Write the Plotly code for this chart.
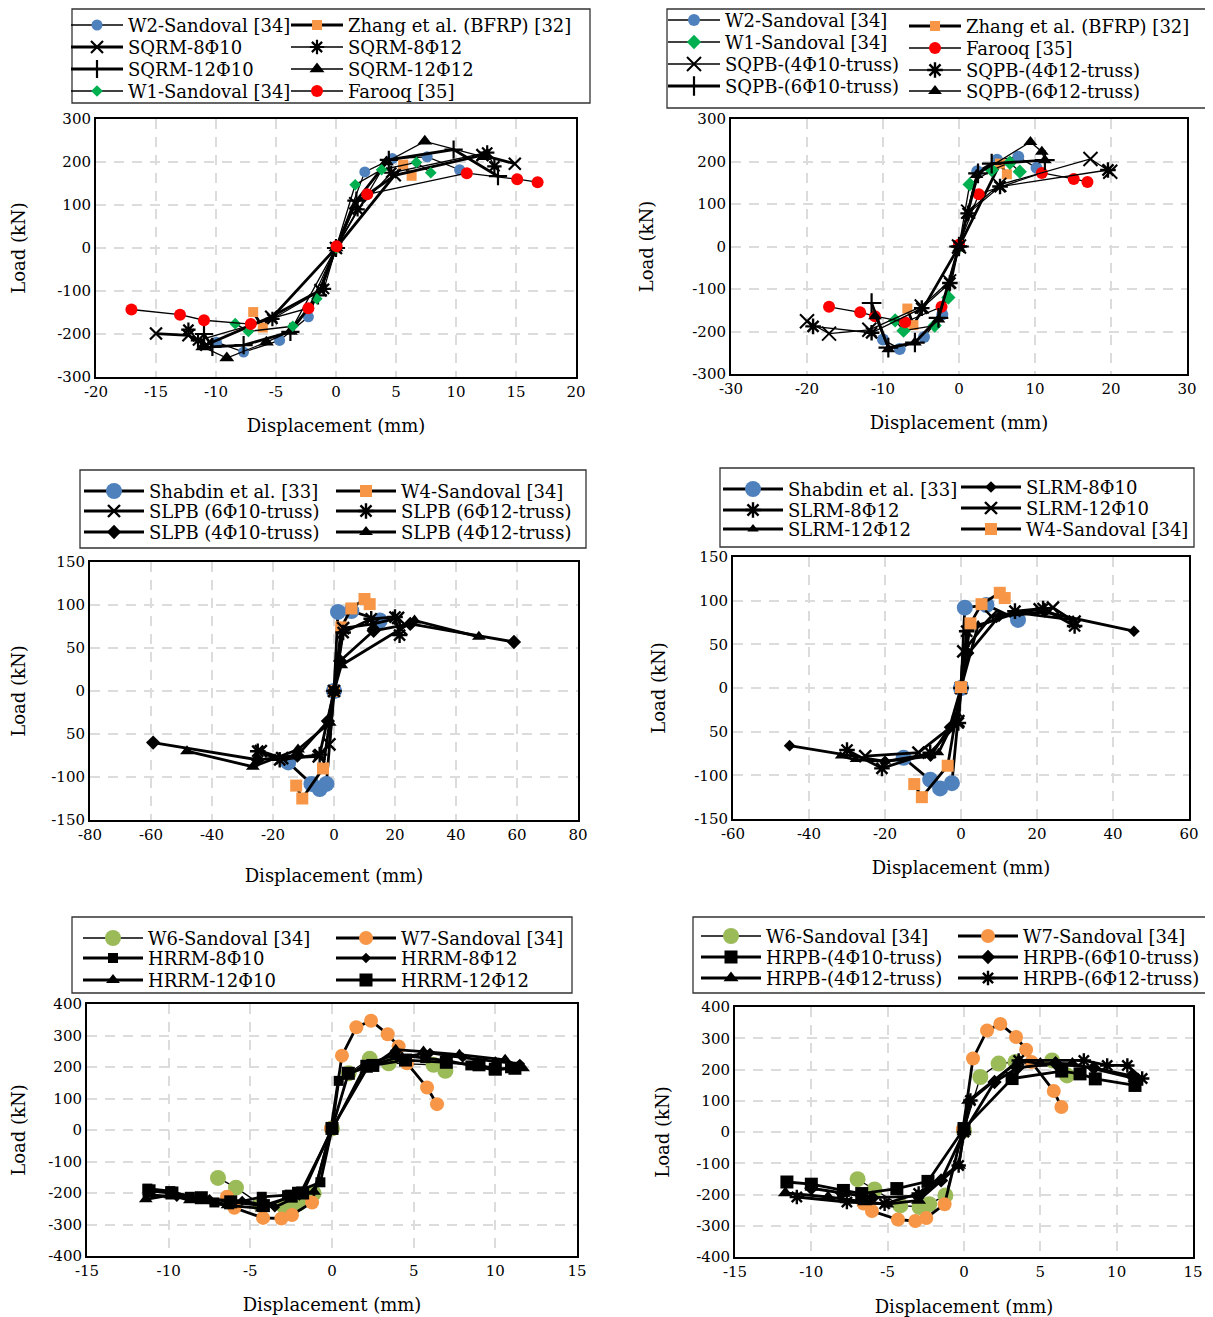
import plotly.graph_objects as go

# The page body adds an 8 px margin, so the figure is 8 px smaller and all
# page-pixel positions below are converted with that offset.
PAGE_W, PAGE_H = 1213, 1317
OFF = 8
W, H = PAGE_W - OFF, PAGE_H - OFF
FONT = "DejaVu Serif"
BLUE = "#4F81BD"
ORANGE = "#F79646"
GREEN = "#00B050"
RED = "#FF0000"
LGREEN = "#9BBB59"
PHI = "\u03a6"


def fx(px):
    return (px - OFF) / W


def fy(py):
    return 1 - (py - OFF) / H


# ---------------- data: panel 1 (SQRM) ----------------
p1_w2_x = [-9.96, -7.7, -4.7, -2.3, 0, 2.4, 4.7, 7.6, 10.3]
p1_w2_y = [-219, -242, -215, -160, 0, 177, 208, 212, 182]
p1_zhang_x = [-6.9, -6.1, 0, 5.6, 6.3]
p1_zhang_y = [-149, -185, 0, 194, 168]
p1_s810_x = [-15.0, -12.3, -10.8, -5.4, -1.3, 0, 1.6, 4.9, 12.2, 14.9]
p1_s810_y = [-199, -203, -225, -160, -98, 0, 104, 169, 216, 196]
p1_s812_x = [-12.3, -11.5, -5.3, -1.0, 0, 1.8, 4.6, 12.6, 13.2]
p1_s812_y = [-190, -215, -165, -95, 0, 90, 175, 222, 190]
p1_s1210_x = [-11.0, -10.3, -7.7, -3.8, -1.5, 0, 1.7, 4.4, 9.8, 13.5]
p1_s1210_y = [-200, -230, -226, -195, -110, 0, 110, 205, 229, 167]
p1_s1212_x = [-11.1, -9.1, -5.8, -3.8, 0, 4.2, 7.4, 12.3]
p1_s1212_y = [-230, -256, -219, -194, 0, 200, 248, 212]
p1_w1_x = [-8.4, -7.3, -3.6, -1.6, 0, 1.6, 3.8, 6.7, 7.9]
p1_w1_y = [-176, -194, -182, -118, 0, 147, 182, 199, 175]
p1_far_x = [-17.05, -13.0, -11.0, -7.1, -2.3, 0.05, 2.6, 10.9, 15.1, 16.8]
p1_far_y = [-143, -155, -168, -177, -140, 4, 125, 174, 160, 153]

# ---------------- data: panel 2 (SQPB) ----------------
p2_w2_x = [-10.0, -7.8, -4.6, -2.2, 0, 2.4, 5.0, 7.8, 10.2]
p2_w2_y = [-219, -241, -213, -160, 2, 177, 204, 211, 185]
p2_zhang_x = [-6.8, -6.0, 0, 5.4, 6.3]
p2_zhang_y = [-146, -185, 0, 195, 170]
p2_w1_x = [-8.4, -7.3, -3.2, -1.4, 0, 1.4, 4.3, 6.7, 8.0]
p2_w1_y = [-174, -198, -186, -120, 0, 146, 180, 197, 176]
p2_far_x = [-17.1, -13.0, -11.05, -7.1, -2.3, 0, 2.6, 10.9, 15.1, 16.9]
p2_far_y = [-142, -155, -164, -178, -142, 4, 123, 173, 159, 152]
p2_t410_x = [-20.0, -17.1, -11.8, -4.9, -1.3, 0, 1.2, 5.3, 17.3, 19.9]
p2_t410_y = [-176, -205, -196, -141, -82, 0, 82, 145, 206, 176]
p2_t412_x = [-19.2, -11.5, -4.9, -1.2, 0, 1.2, 5.4, 19.6]
p2_t412_y = [-188, -203, -145, -86, 0, 78, 141, 180]
p2_t610_x = [-11.5, -9.3, -5.8, -2.7, 0, 2.5, 4.3, 11.3]
p2_t610_y = [-133, -238, -226, -168, 0, 172, 195, 203]
p2_t612_x = [-11.05, -9.3, -5.8, -2.7, 0, 2.3, 9.4, 10.9, 11.3]
p2_t612_y = [-164, -242, -226, -172, -4, 168, 246, 223, 203]

# ---------------- data: panel 3 (SLPB) ----------------
p3_shab_x = [-15, -7.4, -4.7, -2.5, 0, 1.3, 5.7, 15]
p3_shab_y = [-83, -108, -114, -108, 0, 92, 93, 82]
p3_w4_x = [-12.4, -10.4, -3.6, 0, 2.4, 5.7, 10, 11.7]
p3_w4_y = [-110, -125, -90, 0, 74, 96, 107, 101]
p3_t610_x = [-24, -17, -5, -1.5, 0, 3, 13, 21, 22]
p3_t610_y = [-70, -78, -76, -62, 0, 73, 78, 85, 72]
p3_t612_x = [-25, -17.8, -4.7, 0, 3, 12.2, 20, 21.5]
p3_t612_y = [-70, -80, -74, 0, 68, 84, 86, 65]
p3_t410_x = [-59.3, -25, -12, -2, 0, 2, 13, 25, 59]
p3_t410_y = [-60, -80, -75, -35, 0, 35, 70, 78, 57]
p3_t412_x = [-48.2, -26.6, -11.8, -1.4, 0, 2.4, 26.4, 47.5]
p3_t412_y = [-70, -88, -68, -37, 0, 30, 82, 63]

# ---------------- data: panel 4 (SLRM) ----------------
p4_shab_x = [-15.1, -8.1, -5.5, -2.4, 0, 1.0, 6.7, 15]
p4_shab_y = [-80, -105, -115, -109, 0, 92, 95, 78]
p4_w4_x = [-12.3, -10.3, -3.5, 0, 2.5, 5.4, 10.2, 11.5]
p4_w4_y = [-110, -125, -89, 1, 74, 96, 109, 103]
p4_s810_x = [-45.1, -20, -8, -3, 0, 2, 10, 22, 45.5]
p4_s810_y = [-66, -84, -78, -45, 0, 40, 82, 87, 65]
p4_s812_x = [-30, -20.8, -8.1, -0.7, 0, 1.5, 14.2, 21.6, 29.9]
p4_s812_y = [-71, -92, -74, -40, 0, 65, 88, 91, 71]
p4_s1210_x = [-25.2, -11.2, -0.7, 0, 0.6, 8, 20.7, 24.2, 29.9]
p4_s1210_y = [-78, -74, -38, 0, 42, 82, 90, 92, 76]
p4_s1212_x = [-31.7, -27.8, -19.9, -5.9, -1, 0, 4.5, 15, 29.5]
p4_s1212_y = [-78, -82, -84, -74, -30, 0, 72, 86, 78]

# ---------------- data: panel 5 (HRRM) ----------------
p5_w6_x = [-6.98, -5.88, -4.39, -2.92, -2.04, -1.12, 0, 1.02, 2.31, 3.47, 6.22, 6.94]
p5_w6_y = [-152, -183, -236, -244, -233, -201, 5, 180, 226, 212, 207, 188]
p5_w7_x = [-6.43, -5.98, -4.22, -3.10, -2.45, -1.22, -0.06, 0.61, 1.49, 2.39, 3.41, 4.08, 4.59, 5.82, 6.43]
p5_w7_y = [-212, -247, -279, -281, -270, -230, 5, 236, 326, 347, 304, 265, 212, 135, 82]
p5_h810_x = [-11.3, -9.9, -8.7, -7.2, -6.3, -4.3, -2.75, -2.14, -0.71, 0, 0.41, 2.04, 3.88, 5.71, 7.04, 8.47, 9.9, 10.9]
p5_h810_y = [-186, -194, -212, -230, -236, -212, -207, -196, -166, 5, 156, 207, 239, 228, 220, 205, 191, 196]
p5_h812_x = [-11.3, -9.5, -7.5, -5.5, -3.5, -2, 0, 2, 4, 6, 8, 10, 11.5]
p5_h812_y = [-205, -212, -220, -225, -245, -208, 0, 200, 230, 245, 230, 218, 210]
p5_h1210_x = [-11.4, -9.9, -8.7, -6.4, -4.3, -2.1, -1.1, 0, 2.1, 3.9, 5.6, 7.8, 10.6, 11.7]
p5_h1210_y = [-220, -207, -223, -239, -249, -201, -196, 5, 191, 255, 249, 239, 223, 196]
p5_h1212_x = [-11.2, -9.8, -8, -6.2, -4.2, -2.5, -1.8, 0, 1.0, 2.5, 4.5, 7, 9, 10, 11.2]
p5_h1212_y = [-193, -200, -215, -228, -240, -210, -200, 5, 180, 205, 222, 215, 207, 193, 196]

# ---------------- data: panel 6 (HRPB) ----------------
p6_w6_x = [-6.97, -5.86, -4.17, -2.91, -2.27, -1.22, 0, 1.07, 2.27, 3.37, 5.77, 6.75]
p6_w6_y = [-151, -184, -235, -240, -231, -203, 5, 176, 219, 224, 229, 181]
p6_w7_x = [-6.58, -6.03, -4.33, -3.19, -2.47, -1.27, -0.07, 0.59, 1.51, 2.38, 3.41, 4.07, 4.42, 5.88, 6.38]
p6_w7_y = [-229, -253, -280, -285, -275, -231, 9, 235, 325, 346, 304, 263, 224, 131, 80]
p6_t410_x = [-11.6, -10.0, -7.9, -6.7, -4.4, -2.36, 0, 3.15, 6.4, 7.6, 8.6, 11.2]
p6_t410_y = [-160, -167, -187, -197, -181, -158, 11, 171, 195, 186, 170, 149]
p6_t610_x = [-10, -8, -6, -3, -1.5, 0, 2, 3.5, 6, 8.5, 11]
p6_t610_y = [-180, -195, -210, -205, -155, 0, 160, 205, 220, 205, 180]
p6_t412_x = [-11.7, -8.9, -6.5, -5.05, -2.97, -0.35, 0, 0.3, 3.6, 5, 7.1, 11.2]
p6_t412_y = [-195, -208, -224, -231, -219, -107, 0, 101, 229, 219, 219, 171]
p6_t612_x = [-10.95, -7.67, -5.2, -2.97, -0.35, 0, 0.42, 3.58, 7.85, 9.38, 10.7, 11.67]
p6_t612_y = [-208, -224, -230, -197, -107, 0, 101, 229, 229, 213, 213, 171]

# ---------------- axis ticks ----------------
p1_xticks = [-20, -15, -10, -5, 0, 5, 10, 15, 20]
p1_yticks = [-300, -200, -100, 0, 100, 200, 300]
p2_xticks = [-30, -20, -10, 0, 10, 20, 30]
p3_xticks = [-80, -60, -40, -20, 0, 20, 40, 60, 80]
p3_yticks = [-150, -100, -50, 0, 50, 100, 150]
p3_ylabels = ["-150", "-100", "50", "0", "50", "100", "150"]
p4_xticks = [-60, -40, -20, 0, 20, 40, 60]
p5_xticks = [-15, -10, -5, 0, 5, 10, 15]
p5_yticks = [-400, -300, -200, -100, 0, 100, 200, 300, 400]

# ---------------- layout geometry (page pixels) ----------------
panels = [
    # (left, right, top, bottom, xrange, yrange, xticks, yticks, ylabels, x-title standoff, y-title standoff)
    (96, 576, 119, 377, [-20, 20], [-300, 300], p1_xticks, p1_yticks, None, 19, 28),
    (731, 1187, 119, 374, [-30, 30], [-300, 300], p2_xticks, p1_yticks, None, 19, 34),
    (90, 578, 562, 820, [-80, 80], [-150, 150], p3_xticks, p3_yticks, p3_ylabels, 26, 24),
    (733, 1189, 557, 819, [-60, 60], [-150, 150], p4_xticks, p3_yticks, p3_ylabels, 19, 24),
    (87, 577, 1004, 1256, [-15, 15], [-400, 400], p5_xticks, p5_yticks, None, 19, 21),
    (735, 1193, 1007, 1257, [-15, 15], [-400, 400], p5_xticks, p5_yticks, None, 21, 22),
]

THIN, THICK = 1.3, 2.8


def mk(sym, color, size, lw_marker=0):
    return dict(symbol=sym, color=color, size=size,
                line=dict(color="black" if lw_marker else color, width=lw_marker))


# series: (panel, name, x, y, linewidth, marker, legend text x px, legend row y px)
series = [
    (1, "W2-Sandoval [34]", p1_w2_x, p1_w2_y, THIN, mk("circle", BLUE, 11), 130, 25),
    (1, "Zhang et al. (BFRP) [32]", p1_zhang_x, p1_zhang_y, THICK, mk("square", ORANGE, 10), 350, 25),
    (1, "SQRM-8" + PHI + "10", p1_s810_x, p1_s810_y, THICK, mk("x-thin-open", "black", 12, 2.2), 130, 47),
    (1, "SQRM-8" + PHI + "12", p1_s812_x, p1_s812_y, THIN, mk("asterisk-open", "black", 12, 2.2), 350, 47),
    (1, "SQRM-12" + PHI + "10", p1_s1210_x, p1_s1210_y, THICK, mk("cross-thin-open", "black", 13, 2.2), 130, 69),
    (1, "SQRM-12" + PHI + "12", p1_s1212_x, p1_s1212_y, THIN, mk("triangle-up", "black", 13), 350, 69),
    (1, "W1-Sandoval [34]", p1_w1_x, p1_w1_y, THIN, mk("diamond", GREEN, 9), 130, 91),
    (1, "Farooq [35]", p1_far_x, p1_far_y, THIN, mk("circle", RED, 12), 350, 91),

    (2, "W2-Sandoval [34]", p2_w2_x, p2_w2_y, THIN, mk("circle", BLUE, 12), 727, 20),
    (2, "Zhang et al. (BFRP) [32]", p2_zhang_x, p2_zhang_y, THICK, mk("square", ORANGE, 10), 968, 26),
    (2, "W1-Sandoval [34]", p2_w1_x, p2_w1_y, THIN, mk("diamond", GREEN, 11), 727, 42),
    (2, "Farooq [35]", p2_far_x, p2_far_y, THIN, mk("circle", RED, 12), 968, 48),
    (2, "SQPB-(4" + PHI + "10-truss)", p2_t410_x, p2_t410_y, THIN, mk("x-thin-open", "black", 14, 2), 727, 64),
    (2, "SQPB-(4" + PHI + "12-truss)", p2_t412_x, p2_t412_y, THIN, mk("asterisk-open", "black", 13, 2.4), 968, 70),
    (2, "SQPB-(6" + PHI + "10-truss)", p2_t610_x, p2_t610_y, THICK, mk("cross-thin-open", "black", 14, 2.2), 727, 86),
    (2, "SQPB-(6" + PHI + "12-truss)", p2_t612_x, p2_t612_y, THIN, mk("triangle-up", "black", 12), 968, 91),

    (3, "Shabdin et al. [33]", p3_shab_x, p3_shab_y, THICK, mk("circle", BLUE, 16), 151, 491),
    (3, "W4-Sandoval [34]", p3_w4_x, p3_w4_y, THICK, mk("square", ORANGE, 12), 403, 491),
    (3, "SLPB (6" + PHI + "10-truss)", p3_t610_x, p3_t610_y, THICK, mk("x-thin-open", "black", 12, 2.4), 151, 511),
    (3, "SLPB (6" + PHI + "12-truss)", p3_t612_x, p3_t612_y, THICK, mk("asterisk-open", "black", 13, 2.4), 403, 511),
    (3, "SLPB (4" + PHI + "10-truss)", p3_t410_x, p3_t410_y, THICK, mk("diamond", "black", 11), 151, 532),
    (3, "SLPB (4" + PHI + "12-truss)", p3_t412_x, p3_t412_y, THICK, mk("triangle-up", "black", 12), 403, 532),

    (4, "Shabdin et al. [33]", p4_shab_x, p4_shab_y, THICK, mk("circle", BLUE, 16), 790, 489),
    (4, "SLRM-8" + PHI + "10", p4_s810_x, p4_s810_y, THICK, mk("diamond", "black", 9), 1028, 487),
    (4, "SLRM-8" + PHI + "12", p4_s812_x, p4_s812_y, THICK, mk("asterisk-open", "black", 13, 2.4), 790, 510),
    (4, "SLRM-12" + PHI + "10", p4_s1210_x, p4_s1210_y, THICK, mk("x-thin-open", "black", 12, 2.4), 1028, 508),
    (4, "SLRM-12" + PHI + "12", p4_s1212_x, p4_s1212_y, THICK, mk("triangle-up", "black", 10), 790, 529),
    (4, "W4-Sandoval [34]", p4_w4_x, p4_w4_y, THICK, mk("square", ORANGE, 12), 1028, 529),

    (5, "W6-Sandoval [34]", p5_w6_x, p5_w6_y, THIN, mk("circle", LGREEN, 16), 150, 938),
    (5, "W7-Sandoval [34]", p5_w7_x, p5_w7_y, THICK, mk("circle", ORANGE, 14), 403, 938),
    (5, "HRRM-8" + PHI + "10", p5_h810_x, p5_h810_y, THICK, mk("square", "black", 10), 150, 958),
    (5, "HRRM-8" + PHI + "12", p5_h812_x, p5_h812_y, THICK, mk("diamond", "black", 8), 403, 958),
    (5, "HRRM-12" + PHI + "10", p5_h1210_x, p5_h1210_y, THICK, mk("triangle-up", "black", 12), 150, 980),
    (5, "HRRM-12" + PHI + "12", p5_h1212_x, p5_h1212_y, THICK, mk("square", "black", 13), 403, 980),

    (6, "W6-Sandoval [34]", p6_w6_x, p6_w6_y, THIN, mk("circle", LGREEN, 16), 768, 936),
    (6, "W7-Sandoval [34]", p6_w7_x, p6_w7_y, THICK, mk("circle", ORANGE, 14), 1025, 936),
    (6, "HRPB-(4" + PHI + "10-truss)", p6_t410_x, p6_t410_y, THICK, mk("square", "black", 13), 768, 957),
    (6, "HRPB-(6" + PHI + "10-truss)", p6_t610_x, p6_t610_y, THICK, mk("diamond", "black", 11), 1025, 957),
    (6, "HRPB-(4" + PHI + "12-truss)", p6_t412_x, p6_t412_y, THICK, mk("triangle-up", "black", 13), 768, 978),
    (6, "HRPB-(6" + PHI + "12-truss)", p6_t612_x, p6_t612_y, THICK, mk("asterisk-open", "black", 12, 2.4), 1025, 978),
]

legend_item_width = {1: 52, 2: 52, 3: 60, 4: 60, 5: 60, 6: 60}
legend_boxes = {
    1: (72, 9, 590, 103),
    2: (667, 9, 1208, 108),
    3: (80, 470, 586, 548),
    4: (720, 468, 1194, 547),
    5: (72, 917, 572, 993),
    6: (693, 917, 1208, 993),
}
LEG_FONT = 18
ITEM_H = LEG_FONT * 1.3 + 3

fig = go.Figure()

for k, (p, name, xs, ys, lw, marker, tx, ty) in enumerate(series):
    key = "legend" if k == 0 else f"legend{k + 1}"
    iw = legend_item_width[p]
    lx = tx - (iw + 12)
    fig.layout[key] = dict(
        orientation="v", x=fx(lx), y=fy(ty - (ITEM_H / 2 + 5)),
        xanchor="left", yanchor="top", bgcolor="rgba(0,0,0,0)",
        borderwidth=0, itemwidth=iw,
        font=dict(family=FONT, size=LEG_FONT, color="black"),
        tracegroupgap=0,
    )
    sfx = "" if p == 1 else str(p)
    fig.add_trace(go.Scatter(
        x=xs, y=ys, name=name, mode="lines+markers",
        line=dict(color="black", width=lw), marker=marker,
        xaxis="x" + sfx, yaxis="y" + sfx, legend=key,
        showlegend=True, cliponaxis=False,
    ))

for i, (l, r, t, b, xr, yr, xt, yt, yl, xso, yso) in enumerate(panels):
    sfx = "" if i == 0 else str(i + 1)
    common = dict(showline=True, mirror=True, linecolor="black", linewidth=2,
                  showgrid=True, gridcolor="#dcdcdc", gridwidth=1.6, griddash="10px,8px",
                  zeroline=False, ticks="", fixedrange=True, automargin=False,
                  tickfont=dict(family=FONT, size=15, color="black"))
    fig.layout["xaxis" + sfx] = dict(
        common, domain=[fx(l), fx(r)], range=xr, anchor="y" + sfx,
        tickvals=xt, ticktext=[str(v) for v in xt],
        title=dict(text="Displacement (mm)", font=dict(family=FONT, size=18, color="black"), standoff=xso),
    )
    fig.layout["yaxis" + sfx] = dict(
        common, domain=[fy(b), fy(t)], range=yr, anchor="x" + sfx,
        tickvals=yt, ticktext=yl if yl else [str(v) for v in yt],
        title=dict(text="Load (kN)", font=dict(family=FONT, size=18, color="black"), standoff=yso),
    )

shapes = []
for p, (x0, y0, x1, y1) in legend_boxes.items():
    shapes.append(dict(type="rect", xref="paper", yref="paper",
                       x0=fx(x0), x1=fx(x1), y0=fy(y1), y1=fy(y0),
                       line=dict(color="#333333", width=1.3), fillcolor="rgba(0,0,0,0)", layer="above"))

fig.update_layout(
    width=W, height=H, margin=dict(l=0, r=0, t=0, b=0, autoexpand=False),
    paper_bgcolor="white", plot_bgcolor="white",
    font=dict(family=FONT, size=15, color="black"),
    shapes=shapes, showlegend=True,
)

fig.write_html("out.html")
